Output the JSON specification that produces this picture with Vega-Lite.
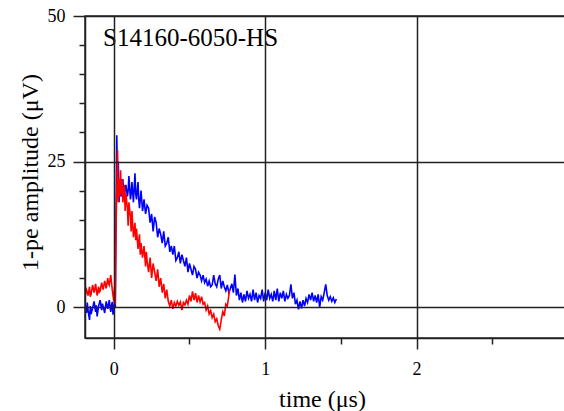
{
  "$schema": "https://vega.github.io/schema/vega-lite/v6.json",
  "width": 486,
  "height": 322,
  "autosize": {"type": "none"},
  "padding": {"left": 85, "top": 16, "right": 0, "bottom": 73},
  "background": "white",
  "config": {
    "view": {"stroke": "#222", "strokeWidth": 1.5},
    "font": "Liberation Serif",
    "axis": {"labelFont": "Liberation Serif", "titleFont": "Liberation Serif", "labelColor": "black", "titleColor": "black"}
  },
  "datasets": {
    "label": [{"text": "S14160-6050-HS", "t": -0.071, "v": 44.85}],
    "blue": [
      {"t": -0.19, "v": 0.5}, {"t": -0.18, "v": -1.0}, {"t": -0.175, "v": 0.8}, {"t": -0.17, "v": -0.5},
      {"t": -0.16, "v": -2.2}, {"t": -0.155, "v": 0.2}, {"t": -0.15, "v": -1.2}, {"t": -0.14, "v": -0.2},
      {"t": -0.13, "v": 1.0}, {"t": -0.12, "v": -0.8}, {"t": -0.115, "v": 0.3}, {"t": -0.11, "v": -1.6},
      {"t": -0.10, "v": 0.2}, {"t": -0.09, "v": 1.2}, {"t": -0.08, "v": -0.5}, {"t": -0.075, "v": 0.6},
      {"t": -0.07, "v": 0.1}, {"t": -0.06, "v": -1.0}, {"t": -0.05, "v": 1.0}, {"t": -0.04, "v": -0.3},
      {"t": -0.035, "v": 0.4}, {"t": -0.03, "v": 1.2}, {"t": -0.02, "v": -0.8}, {"t": -0.015, "v": 0.2},
      {"t": -0.01, "v": 0.9}, {"t": -0.005, "v": -1.3}, {"t": 0.0, "v": -0.4}, {"t": 0.005, "v": 1.0},
      {"t": 0.01, "v": 0.0}, {"t": 0.013, "v": 10}, {"t": 0.016, "v": 18}, {"t": 0.02, "v": 29.5},
      {"t": 0.025, "v": 19}, {"t": 0.03, "v": 25}, {"t": 0.035, "v": 18}, {"t": 0.04, "v": 21.5},
      {"t": 0.045, "v": 19.5}, {"t": 0.05, "v": 19}, {"t": 0.055, "v": 21}, {"t": 0.06, "v": 22},
      {"t": 0.065, "v": 19.5}, {"t": 0.07, "v": 18.5}, {"t": 0.075, "v": 20.5}, {"t": 0.08, "v": 21},
      {"t": 0.09, "v": 19}, {"t": 0.095, "v": 20}, {"t": 0.10, "v": 22.5}, {"t": 0.11, "v": 18.5},
      {"t": 0.115, "v": 19.5}, {"t": 0.12, "v": 21.5}, {"t": 0.13, "v": 18}, {"t": 0.135, "v": 20.5},
      {"t": 0.14, "v": 23}, {"t": 0.145, "v": 19.5}, {"t": 0.15, "v": 18.5}, {"t": 0.16, "v": 21.5},
      {"t": 0.165, "v": 18.5}, {"t": 0.17, "v": 17}, {"t": 0.18, "v": 20}, {"t": 0.19, "v": 16.5},
      {"t": 0.20, "v": 18.5}, {"t": 0.21, "v": 16}, {"t": 0.22, "v": 17.5}, {"t": 0.23, "v": 17},
      {"t": 0.24, "v": 14.5}, {"t": 0.25, "v": 16}, {"t": 0.26, "v": 13}, {"t": 0.27, "v": 15.5},
      {"t": 0.28, "v": 14.5}, {"t": 0.29, "v": 12}, {"t": 0.30, "v": 13.5}, {"t": 0.31, "v": 12.5},
      {"t": 0.32, "v": 11}, {"t": 0.33, "v": 13}, {"t": 0.34, "v": 10.5}, {"t": 0.35, "v": 11},
      {"t": 0.36, "v": 12}, {"t": 0.37, "v": 9.5}, {"t": 0.38, "v": 10.5}, {"t": 0.39, "v": 9},
      {"t": 0.40, "v": 10.5}, {"t": 0.41, "v": 8}, {"t": 0.42, "v": 8.5}, {"t": 0.43, "v": 9.5},
      {"t": 0.44, "v": 7.5}, {"t": 0.45, "v": 9}, {"t": 0.46, "v": 8}, {"t": 0.47, "v": 7},
      {"t": 0.48, "v": 8.5}, {"t": 0.49, "v": 6}, {"t": 0.50, "v": 7.5}, {"t": 0.51, "v": 6.5},
      {"t": 0.52, "v": 5.5}, {"t": 0.53, "v": 7}, {"t": 0.54, "v": 6.5}, {"t": 0.55, "v": 5},
      {"t": 0.56, "v": 6}, {"t": 0.57, "v": 5.5}, {"t": 0.58, "v": 4.5}, {"t": 0.59, "v": 5.5},
      {"t": 0.60, "v": 4.2}, {"t": 0.61, "v": 4.8}, {"t": 0.62, "v": 3.6}, {"t": 0.63, "v": 4.5},
      {"t": 0.64, "v": 3.5}, {"t": 0.65, "v": 3.8}, {"t": 0.66, "v": 5.5}, {"t": 0.67, "v": 4.0},
      {"t": 0.68, "v": 3.5}, {"t": 0.69, "v": 4.8}, {"t": 0.70, "v": 5.5}, {"t": 0.71, "v": 3.2},
      {"t": 0.72, "v": 4.5}, {"t": 0.73, "v": 3.5}, {"t": 0.74, "v": 2.8}, {"t": 0.75, "v": 3.8},
      {"t": 0.76, "v": 2.5}, {"t": 0.77, "v": 3.2}, {"t": 0.78, "v": 4.0}, {"t": 0.79, "v": 2.5},
      {"t": 0.80, "v": 5.6}, {"t": 0.81, "v": 2.0}, {"t": 0.82, "v": 3.2}, {"t": 0.83, "v": 1.2},
      {"t": 0.84, "v": 2.5}, {"t": 0.85, "v": 0.8}, {"t": 0.86, "v": 2.2}, {"t": 0.87, "v": 1.0},
      {"t": 0.88, "v": 2.8}, {"t": 0.89, "v": 1.5}, {"t": 0.90, "v": 2.2}, {"t": 0.91, "v": 1.0},
      {"t": 0.92, "v": 3.0}, {"t": 0.93, "v": 1.2}, {"t": 0.94, "v": 2.5}, {"t": 0.95, "v": 0.8},
      {"t": 0.96, "v": 2.0}, {"t": 0.97, "v": 1.5}, {"t": 0.98, "v": 3.0}, {"t": 0.99, "v": 1.0},
      {"t": 1.00, "v": 2.5}, {"t": 1.01, "v": 1.2}, {"t": 1.02, "v": 3.0}, {"t": 1.03, "v": 1.5},
      {"t": 1.04, "v": 2.2}, {"t": 1.05, "v": 1.0}, {"t": 1.06, "v": 2.8}, {"t": 1.07, "v": 1.2},
      {"t": 1.08, "v": 3.2}, {"t": 1.09, "v": 1.0}, {"t": 1.10, "v": 2.5}, {"t": 1.11, "v": 1.5},
      {"t": 1.12, "v": 2.8}, {"t": 1.13, "v": 1.0}, {"t": 1.14, "v": 2.2}, {"t": 1.15, "v": 1.5},
      {"t": 1.16, "v": 2.0}, {"t": 1.17, "v": 3.9}, {"t": 1.18, "v": 1.5}, {"t": 1.19, "v": 2.5},
      {"t": 1.20, "v": 0.5}, {"t": 1.21, "v": 1.2}, {"t": 1.22, "v": -0.4}, {"t": 1.23, "v": 1.0},
      {"t": 1.24, "v": -0.2}, {"t": 1.25, "v": 1.2}, {"t": 1.26, "v": 0.2}, {"t": 1.27, "v": 1.5},
      {"t": 1.28, "v": 0.8}, {"t": 1.29, "v": 2.2}, {"t": 1.30, "v": 1.2}, {"t": 1.31, "v": 2.5},
      {"t": 1.32, "v": 1.0}, {"t": 1.33, "v": 2.0}, {"t": 1.34, "v": 0.8}, {"t": 1.35, "v": 2.2},
      {"t": 1.36, "v": 0.0}, {"t": 1.37, "v": 1.8}, {"t": 1.38, "v": 1.2}, {"t": 1.39, "v": 2.5},
      {"t": 1.40, "v": 3.9}, {"t": 1.41, "v": 2.0}, {"t": 1.42, "v": 1.2}, {"t": 1.43, "v": 1.8},
      {"t": 1.44, "v": 1.0}, {"t": 1.45, "v": 1.6}, {"t": 1.46, "v": 0.8}, {"t": 1.47, "v": 1.4}
    ],
    "red": [
      {"t": -0.19, "v": 1.5}, {"t": -0.185, "v": 2.6}, {"t": -0.18, "v": 3.0}, {"t": -0.17, "v": 2.0},
      {"t": -0.16, "v": 3.5}, {"t": -0.155, "v": 1.8}, {"t": -0.15, "v": 2.2}, {"t": -0.14, "v": 3.8},
      {"t": -0.13, "v": 2.5}, {"t": -0.125, "v": 3.2}, {"t": -0.12, "v": 4.0}, {"t": -0.11, "v": 2.0},
      {"t": -0.10, "v": 3.5}, {"t": -0.095, "v": 2.6}, {"t": -0.09, "v": 2.8}, {"t": -0.08, "v": 4.2},
      {"t": -0.07, "v": 3.0}, {"t": -0.065, "v": 3.8}, {"t": -0.06, "v": 4.5}, {"t": -0.05, "v": 3.2},
      {"t": -0.04, "v": 5.0}, {"t": -0.035, "v": 4.1}, {"t": -0.03, "v": 3.8}, {"t": -0.02, "v": 5.5},
      {"t": -0.01, "v": 3.0}, {"t": 0.0, "v": 1.0}, {"t": 0.005, "v": 3.5}, {"t": 0.01, "v": 0.5},
      {"t": 0.015, "v": 14}, {"t": 0.02, "v": 20}, {"t": 0.025, "v": 27}, {"t": 0.03, "v": 18},
      {"t": 0.035, "v": 22}, {"t": 0.04, "v": 19}, {"t": 0.045, "v": 23.5}, {"t": 0.05, "v": 19.5},
      {"t": 0.055, "v": 22}, {"t": 0.06, "v": 18}, {"t": 0.07, "v": 21}, {"t": 0.075, "v": 16.5},
      {"t": 0.08, "v": 19.5}, {"t": 0.09, "v": 17}, {"t": 0.095, "v": 14}, {"t": 0.10, "v": 18},
      {"t": 0.11, "v": 15.5}, {"t": 0.115, "v": 13}, {"t": 0.12, "v": 16.5}, {"t": 0.13, "v": 12},
      {"t": 0.14, "v": 14.5}, {"t": 0.145, "v": 11.5}, {"t": 0.15, "v": 13.5}, {"t": 0.16, "v": 10},
      {"t": 0.17, "v": 12.5}, {"t": 0.175, "v": 9}, {"t": 0.18, "v": 11}, {"t": 0.19, "v": 8.5},
      {"t": 0.20, "v": 10.5}, {"t": 0.21, "v": 7}, {"t": 0.215, "v": 9.5}, {"t": 0.22, "v": 8},
      {"t": 0.23, "v": 6}, {"t": 0.24, "v": 8.5}, {"t": 0.25, "v": 5}, {"t": 0.26, "v": 7.5},
      {"t": 0.27, "v": 6}, {"t": 0.28, "v": 4.5}, {"t": 0.29, "v": 6.5}, {"t": 0.30, "v": 3.5},
      {"t": 0.31, "v": 5}, {"t": 0.32, "v": 2.5}, {"t": 0.33, "v": 4}, {"t": 0.34, "v": 1.5},
      {"t": 0.35, "v": 3}, {"t": 0.36, "v": 1.0}, {"t": 0.37, "v": 0.2}, {"t": 0.38, "v": 1.2},
      {"t": 0.39, "v": -0.3}, {"t": 0.40, "v": 0.8}, {"t": 0.41, "v": 0.2}, {"t": 0.42, "v": 1.0},
      {"t": 0.43, "v": 0.3}, {"t": 0.44, "v": 0.9}, {"t": 0.45, "v": -0.5}, {"t": 0.46, "v": 0.8},
      {"t": 0.47, "v": 0.4}, {"t": 0.48, "v": 1.2}, {"t": 0.49, "v": 0.5}, {"t": 0.50, "v": 2.0},
      {"t": 0.51, "v": 1.0}, {"t": 0.52, "v": 2.7}, {"t": 0.53, "v": 1.2}, {"t": 0.54, "v": 2.4},
      {"t": 0.55, "v": 0.8}, {"t": 0.56, "v": 2.0}, {"t": 0.57, "v": 0.9}, {"t": 0.58, "v": 1.8},
      {"t": 0.59, "v": 0.5}, {"t": 0.60, "v": 0.8}, {"t": 0.61, "v": -0.5}, {"t": 0.62, "v": 0.2},
      {"t": 0.63, "v": -1.2}, {"t": 0.64, "v": -0.6}, {"t": 0.65, "v": -1.8}, {"t": 0.66, "v": -1.2},
      {"t": 0.67, "v": -2.5}, {"t": 0.68, "v": -2.0}, {"t": 0.69, "v": -3.2}, {"t": 0.70, "v": -3.8},
      {"t": 0.71, "v": -2.2}, {"t": 0.72, "v": -0.8}, {"t": 0.73, "v": -1.5}, {"t": 0.74, "v": 0.5},
      {"t": 0.75, "v": 0.2}, {"t": 0.76, "v": 2.0}, {"t": 0.765, "v": 3.0}
    ]
  },
  "layer": [
    {
      "data": {"name": "blue"},
      "mark": {"type": "line", "color": "#0000ff", "strokeWidth": 1.6, "clip": true},
      "encoding": {
        "x": {
          "field": "t", "type": "quantitative",
          "scale": {"domain": [-0.19, 3.02], "nice": false, "zero": false},
          "axis": {
            "orient": "bottom", "values": [0, 1, 2, 3], "format": "d",
            "grid": true, "gridColor": "#222", "gridWidth": 1.5, "gridOpacity": 1,
            "domainColor": "#222", "domainWidth": 1.5,
            "tickColor": "#222", "tickWidth": 1.5, "tickSize": 11,
            "labelFontSize": 18, "labelPadding": 11, "labelColor": "black",
            "title": "time (μs)", "titleFontSize": 24, "titleFontWeight": "normal",
            "titleX": 237, "titleY": 68, "titleBaseline": "alphabetic", "titleAlign": "center",
            "zindex": 1
          }
        },
        "y": {
          "field": "v", "type": "quantitative",
          "scale": {"domain": [-5.3, 50], "nice": false, "zero": false},
          "axis": {
            "orient": "left", "values": [0, 25, 50], "format": "d",
            "grid": true, "gridColor": "#222", "gridWidth": 1.5, "gridOpacity": 1,
            "domainColor": "#222", "domainWidth": 1.5,
            "tickColor": "#222", "tickWidth": 1.5, "tickSize": 12,
            "labelFontSize": 18, "labelPadding": 8, "labelColor": "black",
            "title": "1-pe amplitude (μV)", "titleFontSize": 24, "titleFontWeight": "normal",
            "titleAngle": -90, "titleX": -48, "titleY": 156, "titleBaseline": "alphabetic", "titleAlign": "center",
            "zindex": 1
          }
        }
      }
    },
    {
      "data": {"name": "red"},
      "mark": {"type": "line", "color": "#ff0000", "strokeWidth": 1.6, "clip": true},
      "encoding": {
        "x": {
          "field": "t", "type": "quantitative",
          "axis": {
            "orient": "bottom", "values": [0.5, 1.5, 2.5],
            "grid": false, "domain": false, "labels": false, "title": null,
            "tickColor": "#222", "tickWidth": 1.5, "tickSize": 6, "zindex": 1
          }
        },
        "y": {
          "field": "v", "type": "quantitative",
          "axis": {
            "orient": "left", "values": [5, 10, 15, 20, 30, 35, 40, 45],
            "grid": false, "domain": false, "labels": false, "title": null,
            "tickColor": "#222", "tickWidth": 1.5, "tickSize": 6, "zindex": 1
          }
        }
      }
    },
    {
      "data": {"name": "label"},
      "mark": {"type": "text", "align": "left", "baseline": "alphabetic", "font": "Liberation Serif", "fontSize": 25, "color": "black"},
      "encoding": {
        "x": {"field": "t", "type": "quantitative", "axis": null},
        "y": {"field": "v", "type": "quantitative", "axis": null},
        "text": {"field": "text"}
      }
    }
  ],
  "resolve": {"axis": {"x": "independent", "y": "independent"}}
}
